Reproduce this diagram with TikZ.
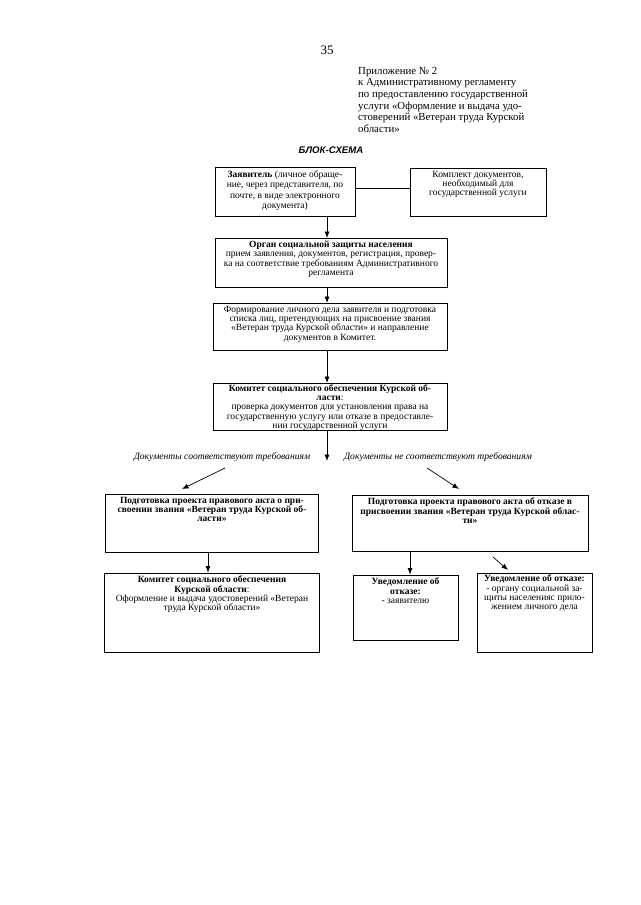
\documentclass[tikz,border=0pt]{standalone}
\usepackage{fontspec}
\setmainfont{Liberation Serif}
\newfontfamily\arialfont{Liberation Sans}
\usetikzlibrary{arrows.meta}
\begin{document}
\begin{tikzpicture}[x=1pt,y=-1pt,
  box/.style={draw,line width=0.8pt,rectangle,inner sep=0pt},
  txt/.style={align=center,font=\fontsize{9.5}{9.4}\selectfont,inner sep=0pt},
  lbl/.style={font=\fontsize{9.6}{10}\selectfont\itshape,inner sep=0pt},
  arr/.style={line width=0.7pt,-{Latex[length=6.5pt,width=5pt]}},
  conn/.style={line width=0.8pt}]
\useasboundingbox[fill=white] (0,0) rectangle (640,905);

\node[font=\fontsize{13}{14}\selectfont,inner sep=0pt] (pg) at (327,50) {35};
\node[anchor=north west,align=left,inner sep=0pt,font=\fontsize{10.8}{11.6}\selectfont] (app) at (358,67)
 {Приложение № 2\\к Административному регламенту\\по предоставлению государственной\\услуги  «Оформление и выдача удо-\\стоверений «Ветеран труда Курской\\области»};
\node[font=\arialfont\bfseries\itshape\fontsize{9.6}{10}\selectfont,inner sep=0pt] (title) at (331,150) {БЛОК-СХЕМА};

% row 1
\node[box,minimum width=140pt,minimum height=49pt] (z) at (285,192) {};
\node[txt,anchor=north,font=\fontsize{9.5}{10.5}\selectfont] (zt) at ([yshift=-3pt]z.north) {\textbf{Заявитель} (личное обраще-\\ние, через представителя, по\\почте, в виде электронного\\документа)};
\node[box,minimum width=136pt,minimum height=48pt] (k) at (478,192) {};
\node[txt,anchor=north] (kt) at ([yshift=-3pt]k.north) {Комплект документов,\\необходимый для\\государственной услуги};
\draw[conn] (z.east |- 0,188) -- (k.west |- 0,188);

% row 2
\node[box,minimum width=232pt,minimum height=49pt] (o) at (331,262.5) {};
\node[txt,anchor=north] (ot) at ([yshift=-3pt]o.north) {\textbf{Орган социальной защиты населения}\\прием заявления, документов, регистрация,  провер-\\ка на соответствие требованиям Административного\\регламента};

% row 3
\node[box,minimum width=234pt,minimum height=47pt] (f) at (330,326.5) {};
\node[txt,anchor=north] (ft) at ([yshift=-3pt]f.north) {Формирование личного дела заявителя и подготовка\\списка лиц, претендующих на присвоение звания\\«Ветеран труда Курской области» и направление\\документов в Комитет.};

% row 4
\node[box,minimum width=234pt,minimum height=47pt] (c) at (330,406.5) {};
\node[txt,anchor=north] (ct) at ([yshift=-1.5pt]c.north) {\textbf{Комитет социального обеспечения Курской об-}\\\textbf{ласти}:\\проверка документов для установления права на\\государственную услугу или отказе в предоставле-\\нии государственной  услуги};

\coordinate (zb) at (327,216);
\coordinate (ob) at (327,287);
\coordinate (fb) at (327,350);
\coordinate (cb) at (327,430);
\draw[arr] (zb) -- (327,238);
\draw[arr] (ob) -- (327,303);
\draw[arr] (fb) -- (327,383);
\draw[arr] (cb) -- (327,461);

\node[lbl] (yes) at (222,457) {Документы соответствуют требованиям};
\node[lbl] (no) at (438,457) {Документы не соответствуют требованиям};

% row 5
\node[box,minimum width=213pt,minimum height=58pt] (pl) at (212,523) {};
\node[txt,anchor=north] (plt) at ([yshift=-3pt]pl.north) {\textbf{Подготовка проекта правового акта о при-}\\\textbf{своении звания «Ветеран труда Курской об-}\\\textbf{ласти»}};
\node[box,minimum width=236pt,minimum height=56pt] (pr) at (470,523) {};
\node[txt,anchor=north] (prt) at ([yshift=-3pt]pr.north) {\textbf{Подготовка проекта правового акта об отказе в}\\\textbf{присвоении звания «Ветеран труда Курской облас-}\\\textbf{ти»}};

\coordinate (ds) at (225,468);
\coordinate (dn) at (427,468);
\coordinate (dse) at (182,489);
\coordinate (dne) at (459,489);
\draw[arr] (ds) -- (dse);
\draw[arr] (dn) -- (dne);

% row 6
\node[box,minimum width=215pt,minimum height=79pt] (kk) at (212,612.5) {};
\node[txt,anchor=north] (kkt) at ([yshift=-3pt]kk.north) {\textbf{Комитет социального обеспечения}\\\textbf{Курской области}:\\Оформление и выдача удостоверений «Ветеран\\труда Курской области»};
\node[box,minimum width=105pt,minimum height=65pt] (u1) at (405.5,607.5) {};
\node[txt,anchor=north] (u1t) at ([yshift=-3pt]u1.north) {\textbf{Уведомление об}\\\textbf{отказе:}\\- заявителю};
\node[box,minimum width=115pt,minimum height=79pt] (u2) at (534.5,612.5) {};
\node[txt,anchor=north] (u2t) at ([yshift=-2pt]u2.north) {\textbf{Уведомление об отказе:}\\- органу социальной за-\\щиты населенияс прило-\\жением личного дела};

\draw[arr] (pl.south -| 208,0) -- (kk.north -| 208,0);
\draw[arr] (pr.south -| 410,0) -- (u1.north -| 410,0);
\coordinate (pd) at (493,557);
\coordinate (pde) at (508,570);
\draw[arr] (pd) -- (pde);
\end{tikzpicture}
\end{document}
